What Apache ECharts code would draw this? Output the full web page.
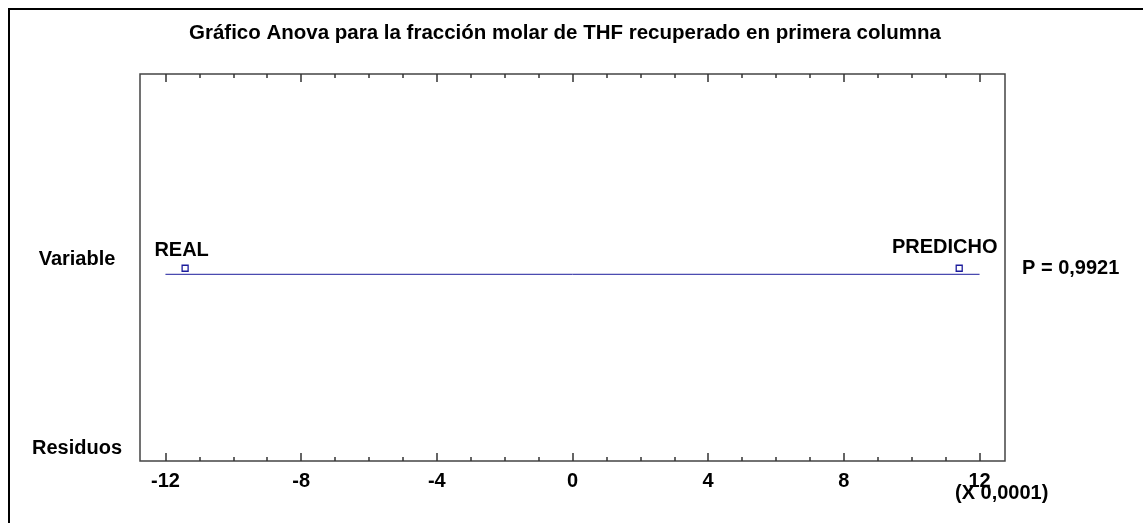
<!DOCTYPE html>
<html>
<head>
<meta charset="utf-8">
<script src="https://cdn.jsdelivr.net/npm/echarts@6/dist/echarts.min.js"></script>
<style>
html,body{margin:0;padding:0;background:#fff;}
#chart{width:1143px;height:523px;}
</style>
</head>
<body>
<div id="chart"></div>
<script>
// ---- data ----
const titleText = 'Gráfico Anova para la fracción molar de THF recuperado en primera columna';
const xMin = -12.75, xMax = 12.75;
const majorTicks = [-12, -8, -4, 0, 4, 8, 12];
const minorTicks = [-12, -11, -10, -9, -8, -7, -6, -5, -4, -3, -2, -1, 0, 1, 2, 3, 4, 5, 6, 7, 8, 9, 10, 11, 12];
const rowNames = ['Residuos', 'Variable'];
const rowValues = [3.2, 52.2];
const pointNames = ['REAL', 'PREDICHO'];
const pointX = [-11.42, 11.40];
const pointY = [49.8, 49.8];
const rangeX = [-12, 12];
const rangeY = [48.24, 48.24];
const pText = 'P = 0,9921';
const pValueY = 49.8;
const scaleText = '(X 0,0001)';

const FONT = 'Liberation Sans, Arial, sans-serif';
const FS = 20;
const navy = '#1c1c9c';
const labelOffsets = [[-3.5, -18], [-14.5, -21]];

const chart = echarts.init(document.getElementById('chart'));

function xAx(pos, ticks, len, showLabel) {
  return {
    type: 'value', position: pos, min: xMin, max: xMax,
    axisLine: {show: false},
    splitLine: {show: false},
    axisTick: {show: true, inside: true, length: len, customValues: ticks,
      lineStyle: {color: '#333', width: 1.5}},
    axisLabel: showLabel ? {show: true, customValues: majorTicks, margin: 10,
      fontFamily: FONT, fontSize: FS, fontWeight: 'bold', color: '#000'} : {show: false}
  };
}

const option = {
  animation: false,
  backgroundColor: '#fff',
  title: {
    text: titleText, left: 184, top: 18,
    textStyle: {fontFamily: FONT, fontSize: 20.5, fontWeight: 'bold', color: '#000'}
  },
  grid: {left: 140, top: 74, right: 138, bottom: 62, show: true,
    borderColor: '#444', borderWidth: 1.5, backgroundColor: 'transparent'},
  xAxis: [
    xAx('bottom', majorTicks, 8, true),
    xAx('bottom', minorTicks, 4, false),
    xAx('top', majorTicks, 8, false),
    xAx('top', minorTicks, 4, false)
  ],
  yAxis: [
    {type: 'value', min: 0, max: 100, position: 'left',
      axisLine: {show: false}, axisTick: {show: false}, splitLine: {show: false},
      axisLabel: {show: true, customValues: rowValues, margin: 63, align: 'center',
        formatter: function (v) { const i = rowValues.indexOf(v); return i >= 0 ? rowNames[i] : ''; },
        fontFamily: FONT, fontSize: FS, fontWeight: 'bold', color: '#000'}},
    {type: 'value', min: 0, max: 100, position: 'right',
      axisLine: {show: false}, axisTick: {show: false}, splitLine: {show: false},
      axisLabel: {show: true, customValues: [pValueY], margin: 17, align: 'left',
        formatter: function () { return pText; },
        fontFamily: FONT, fontSize: FS, fontWeight: 'bold', color: '#000'}}
  ],
  series: [
    {type: 'line', xAxisIndex: 0, yAxisIndex: 0, symbol: 'none',
      lineStyle: {color: navy, width: 1},
      data: rangeX.map((x, i) => [x, rangeY[i]])},
    {type: 'scatter', xAxisIndex: 0, yAxisIndex: 0, symbol: 'rect', symbolSize: 6,
      itemStyle: {color: '#fff', borderColor: navy, borderWidth: 1.3, opacity: 1},
      data: pointNames.map((n, i) => ({
        value: [pointX[i], pointY[i]], name: n,
        label: {show: true, position: 'inside', offset: labelOffsets[i], formatter: n,
          fontFamily: FONT, fontSize: FS, fontWeight: 'bold', color: '#000',
          textBorderWidth: 0, opacity: 1}
      }))}
  ],
  graphic: [
    {type: 'rect', shape: {x: 9, y: 9, width: 1300, height: 700}, silent: true,
      style: {fill: 'none', stroke: '#000', lineWidth: 2}},
    {type: 'text', left: 955, top: 483, silent: true,
      style: {text: scaleText, font: 'bold ' + FS + 'px ' + FONT, fill: '#000'}}
  ]
};
chart.setOption(option);
</script>
</body>
</html>
